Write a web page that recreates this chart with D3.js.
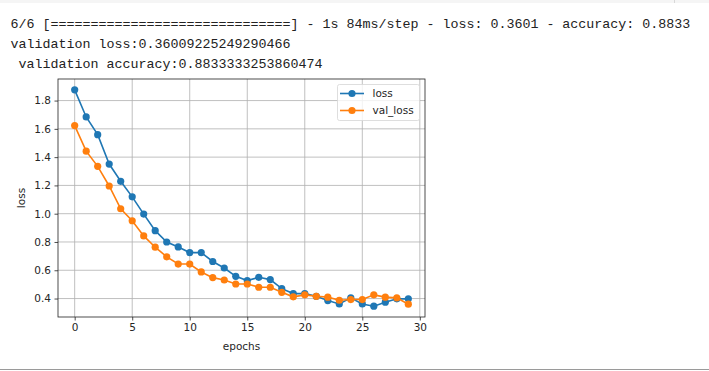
<!DOCTYPE html>
<html>
<head>
<meta charset="utf-8">
<script src="https://cdn.jsdelivr.net/npm/d3@7"></script>
<style>
  body { margin: 0; background: #fff; }
  svg { display: block; }
</style>
</head>
<body>
<svg id="chart" width="709" height="371"></svg>
<script>
// console output lines above the plot
var consoleLines = [
  "6/6 [==============================] - 1s 84ms/step - loss: 0.3601 - accuracy: 0.8833",
  "validation loss:0.36009225249290466",
  " validation accuracy:0.8833333253860474"
];

// training history
var epochs = d3.range(0, 30);
var loss = [1.876, 1.684, 1.559, 1.351, 1.229, 1.119, 0.997, 0.880, 0.800, 0.765,
            0.725, 0.725, 0.662, 0.616, 0.557, 0.527, 0.550, 0.534, 0.470, 0.435,
            0.435, 0.416, 0.386, 0.362, 0.405, 0.362, 0.346, 0.374, 0.398, 0.398];
var valLoss = [1.623, 1.442, 1.335, 1.196, 1.035, 0.950, 0.843, 0.763, 0.695, 0.644,
               0.644, 0.588, 0.548, 0.531, 0.503, 0.503, 0.480, 0.480, 0.444, 0.412,
               0.426, 0.416, 0.410, 0.388, 0.393, 0.393, 0.426, 0.410, 0.405, 0.3601];
var xTicks = [0, 5, 10, 15, 20, 25, 30];
var yTicks = [0.4, 0.6, 0.8, 1.0, 1.2, 1.4, 1.6, 1.8];

var series = [
  {name: "loss", values: loss, color: "#1f77b4"},
  {name: "val_loss", values: valLoss, color: "#ff7f0e"}
];

var svg = d3.select("#chart");

// notebook decorations
svg.append("rect").attr("x", 0).attr("y", 0).attr("width", 709).attr("height", 3).attr("fill", "#f5f5f5");
svg.append("line").attr("x1", 674.5).attr("x2", 674.5).attr("y1", 0).attr("y2", 3).attr("stroke", "#d8d8d8");
svg.append("line").attr("x1", 0).attr("x2", 709).attr("y1", 369.5).attr("y2", 369.5).attr("stroke", "#9a9a9a");

svg.selectAll("text.console")
  .data(consoleLines)
  .enter().append("text")
  .attr("class", "console")
  .attr("x", 10.5)
  .attr("y", function(d, i) { return 27.5 + i * 20; })
  .attr("font-family", "'Liberation Mono', 'DejaVu Sans Mono', monospace")
  .attr("font-size", "13.33px")
  .attr("fill", "#222")
  .style("white-space", "pre")
  .text(function(d) { return d; });

// axes box
var plotL = 58, plotR = 425, plotT = 79, plotB = 317;

// matplotlib style 5% margins
var xmin = -1.45, xmax = 30.45;
var ylo = d3.min(loss.concat(valLoss)), yhi = d3.max(loss.concat(valLoss));
var ypad = (yhi - ylo) * 0.05;

var x = d3.scaleLinear().domain([xmin, xmax]).range([plotL, plotR]);
var y = d3.scaleLinear().domain([ylo - ypad, yhi + ypad]).range([plotB, plotT]);

var g = svg.append("g");

// grid
g.selectAll("line.gx").data(xTicks).enter().append("line")
  .attr("x1", function(d) { return x(d); }).attr("x2", function(d) { return x(d); })
  .attr("y1", plotT).attr("y2", plotB)
  .attr("stroke", "#b0b0b0").attr("stroke-width", 0.8);
g.selectAll("line.gy").data(yTicks).enter().append("line")
  .attr("y1", function(d) { return y(d); }).attr("y2", function(d) { return y(d); })
  .attr("x1", plotL).attr("x2", plotR)
  .attr("stroke", "#b0b0b0").attr("stroke-width", 0.8);

// axes
var xAxis = d3.axisBottom(x).tickValues(xTicks).tickSize(3.5).tickPadding(3.5).tickFormat(d3.format("d"));
var yAxis = d3.axisLeft(y).tickValues(yTicks).tickSize(3.5).tickPadding(3.5).tickFormat(d3.format(".1f"));

var axStyle = function(sel) {
  sel.select(".domain").remove();
  sel.selectAll(".tick line").attr("stroke", "#222").attr("stroke-width", 0.8);
  sel.selectAll(".tick text").attr("fill", "#262626")
    .attr("font-family", "'DejaVu Sans', sans-serif").attr("font-size", "10.5px");
};
svg.append("g").attr("transform", "translate(0," + plotB + ")").call(xAxis).call(axStyle);
svg.append("g").attr("transform", "translate(" + plotL + ",0)").call(yAxis).call(axStyle);

// lines and markers
var line = d3.line().x(function(d, i) { return x(epochs[i]); }).y(function(d) { return y(d); });

series.forEach(function(s) {
  g.append("path").datum(s.values)
    .attr("d", line)
    .attr("fill", "none")
    .attr("stroke", s.color)
    .attr("stroke-width", 1.6);
  g.selectAll(null).data(s.values).enter().append("circle")
    .attr("cx", function(d, i) { return x(epochs[i]); })
    .attr("cy", function(d) { return y(d); })
    .attr("r", 3.6)
    .attr("fill", s.color);
});

// spines
svg.append("rect")
  .attr("x", plotL).attr("y", plotT)
  .attr("width", plotR - plotL).attr("height", plotB - plotT)
  .attr("fill", "none").attr("stroke", "#222").attr("stroke-width", 0.8);

// axis labels
svg.append("text")
  .attr("x", (plotL + plotR) / 2).attr("y", 350)
  .attr("text-anchor", "middle")
  .attr("font-family", "'DejaVu Sans', sans-serif").attr("font-size", "10.5px")
  .attr("fill", "#262626")
  .text("epochs");
svg.append("text")
  .attr("transform", "translate(25," + ((plotT + plotB) / 2) + ") rotate(-90)")
  .attr("text-anchor", "middle")
  .attr("font-family", "'DejaVu Sans', sans-serif").attr("font-size", "10.5px")
  .attr("fill", "#262626")
  .text("loss");

// legend
var lg = svg.append("g").attr("transform", "translate(337,84)");
lg.append("rect")
  .attr("x", 0.5).attr("y", 0.5).attr("width", 82).attr("height", 36)
  .attr("rx", 2).attr("fill", "#fff").attr("fill-opacity", 0.8)
  .attr("stroke", "#d6d6d6").attr("stroke-width", 0.8);
series.forEach(function(s, i) {
  var yy = 9.5 + i * 17;
  lg.append("line").attr("x1", 3).attr("x2", 27).attr("y1", yy).attr("y2", yy)
    .attr("stroke", s.color).attr("stroke-width", 1.6);
  lg.append("circle").attr("cx", 15).attr("cy", yy).attr("r", 3.6).attr("fill", s.color);
  lg.append("text").attr("x", 35.5).attr("y", yy + 3.6)
    .attr("font-family", "'DejaVu Sans', sans-serif").attr("font-size", "10.5px")
    .attr("fill", "#262626")
    .text(s.name);
});
</script>
</body>
</html>
